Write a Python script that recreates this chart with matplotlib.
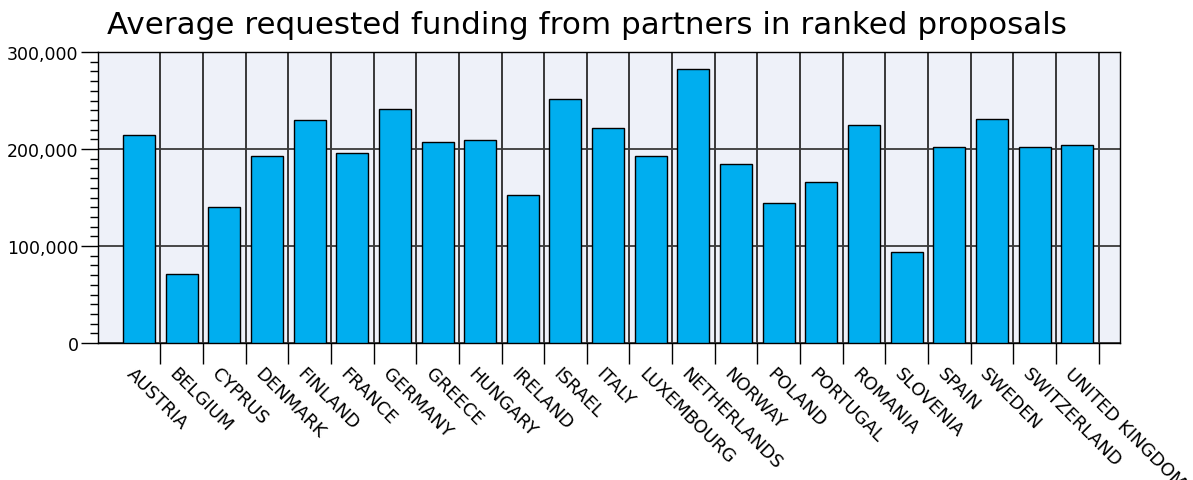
import matplotlib.pyplot as plt
import matplotlib.transforms as mtransforms
from matplotlib.ticker import FuncFormatter, MultipleLocator
import numpy as np

# Data: average requested funding per partner country (EUR)
countries = ['AUSTRIA', 'BELGIUM', 'CYPRUS', 'DENMARK', 'FINLAND', 'FRANCE',
             'GERMANY', 'GREECE', 'HUNGARY', 'IRELAND', 'ISRAEL', 'ITALY',
             'LUXEMBOURG', 'NETHERLANDS', 'NORWAY', 'POLAND', 'PORTUGAL',
             'ROMANIA', 'SLOVENIA', 'SPAIN', 'SWEDEN', 'SWITZERLAND',
             'UNITED KINGDOM']
funding = [214400, 71500, 140700, 192500, 229500, 196200,
           241100, 207500, 209200, 152400, 251100, 221600,
           193100, 282200, 184900, 144500, 166100,
           224700, 93400, 202400, 231100, 201700,
           203800]

fig = plt.figure(figsize=(11.93, 4.81), dpi=100)
ax = fig.add_axes([98 / 1193, 1 - 344 / 481, (1120 - 98) / 1193, (344 - 53) / 481])
ax.set_facecolor('#eef1f9')

x = np.arange(len(countries))
ax.bar(x, funding, width=0.75, color='#00aeef', edgecolor='black',
       linewidth=1.0, zorder=3)

ax.set_xlim(-0.96, len(countries))
ax.set_ylim(0, 300000)

# y axis: major every 100k, minor every 10k
ax.yaxis.set_major_locator(MultipleLocator(100000))
ax.yaxis.set_minor_locator(MultipleLocator(10000))
ax.yaxis.set_major_formatter(FuncFormatter(lambda v, p: f'{int(v):,}'))
ax.tick_params(axis='y', which='major', length=12, width=1.0, labelsize=12.5, pad=2)
ax.tick_params(axis='y', which='minor', length=6, width=1.0)

# x axis: labels at categories, tick lines at category boundaries
ax.set_xticks(x)
ax.set_xticks(x + 0.5, minor=True)
ax.set_xticklabels(countries, rotation=-45, ha='left', va='top',
                   rotation_mode='anchor', fontsize=13)
ax.tick_params(axis='x', which='major', length=0, pad=15)
ax.tick_params(axis='x', which='minor', length=15, width=1.0)
offset = mtransforms.ScaledTranslation(-3 / 100, 0, fig.dpi_scale_trans)
for lbl in ax.get_xticklabels():
    lbl.set_transform(lbl.get_transform() + offset)

ax.set_axisbelow(True)
ax.grid(axis='y', which='major', color='#3a3a3a', linewidth=1.3)
ax.grid(axis='x', which='minor', color='#2a2a2a', linewidth=1.3)

for s in ax.spines.values():
    s.set_linewidth(1.0)
    s.set_color('black')

fig.text(107 / 1193, 1 - 34 / 481,
         'Average requested funding from partners in ranked proposals',
         fontsize=22.3, ha='left', va='baseline')

fig.savefig('out.png', dpi=100)
